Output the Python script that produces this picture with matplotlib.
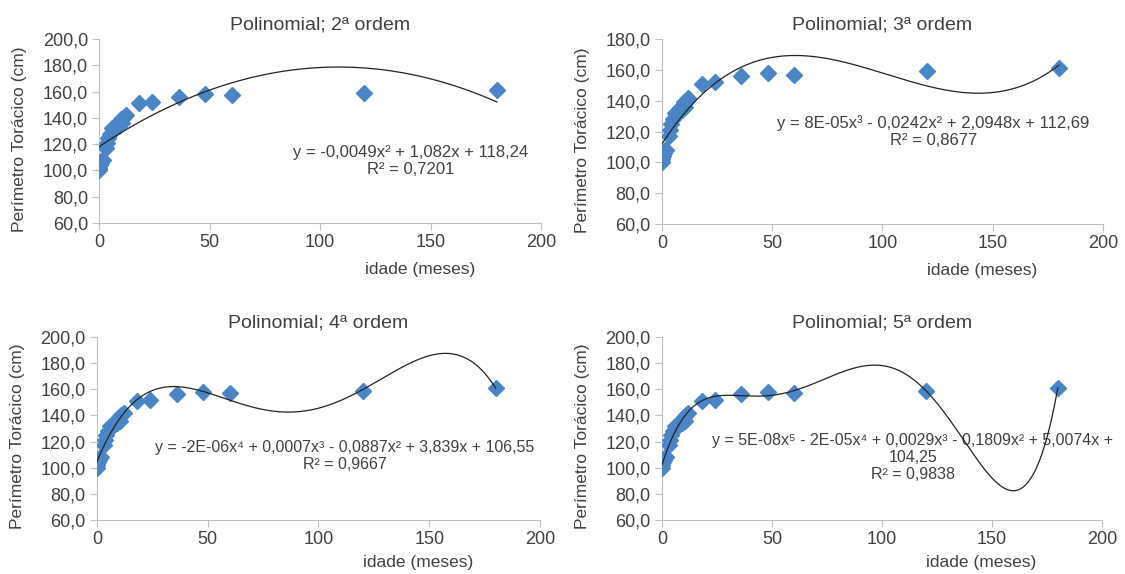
import numpy as np
import matplotlib
matplotlib.use("Agg")
import matplotlib.pyplot as plt

plt.rcParams['font.family'] = ['Liberation Sans', 'DejaVu Sans']

# idade (meses) e perimetro toracico (cm)
idade = [0, 0, 0.5, 1, 1.5, 2, 3, 3.5, 4, 5, 6, 7, 8, 9, 9.5, 10, 10.5, 11, 12,
         18, 24, 36, 48, 60, 120, 180]
perimetro = [100, 102, 104, 106, 108, 108, 117, 121, 125, 128, 132, 133, 135, 134, 137, 139, 136, 140, 142,
             151, 152, 156, 158, 157, 159, 161]

ordens = [2, 3, 4, 5]
titulos = ['Polinomial; 2ª ordem', 'Polinomial; 3ª ordem',
           'Polinomial; 4ª ordem', 'Polinomial; 5ª ordem']
equacoes = ['y = -0,0049x² + 1,082x + 118,24\nR² = 0,7201',
            'y = 8E-05x³ - 0,0242x² + 2,0948x + 112,69\nR² = 0,8677',
            'y = -2E-06x⁴ + 0,0007x³ - 0,0887x² + 3,839x + 106,55\nR² = 0,9667',
            'y = 5E-08x⁵ - 2E-05x⁴ + 0,0029x³ - 0,1809x² + 5,0074x +\n104,25\nR² = 0,9838']
y_limites = [(60, 200), (60, 180), (60, 200), (60, 200)]

posicoes = [[0.088, 0.6115, 0.393, 0.3206],
            [0.5884, 0.6098, 0.392, 0.322],
            [0.0862, 0.094, 0.3938, 0.319],
            [0.5884, 0.094, 0.391, 0.319]]
eq_pos = [(0.705, 0.424), (0.615, 0.59), (0.56, 0.437), (0.57, 0.475)]
eq_tam = [12, 12, 11.5, 11.5]
xlabel_y = [-0.212, -0.212, -0.19, -0.19]

azul = '#4a86c6'
cinza = '#bfbfbf'
texto = '#404040'

fig = plt.figure(figsize=(11.25, 5.74), dpi=100)
x = np.array(idade, dtype=float)
y = np.array(perimetro, dtype=float)
xs = np.linspace(x.min(), x.max(), 400)

for i in range(4):
    ax = fig.add_axes(posicoes[i])
    coef = np.polyfit(x, y, ordens[i])
    ax.plot(x, y, linestyle='none', marker='D', markersize=8, color=azul, zorder=3)
    ax.plot(xs, np.polyval(coef, xs), color='#222222', lw=0.9, zorder=4)

    ax.set_xlim(0, 200)
    ax.set_ylim(*y_limites[i])
    ax.set_xticks([0, 50, 100, 150, 200])
    ax.set_yticks(np.arange(60, y_limites[i][1] + 1, 20))
    ax.yaxis.set_major_formatter(plt.FuncFormatter(lambda v, p: f'{v:.1f}'.replace('.', ',')))
    for s in ['top', 'right']:
        ax.spines[s].set_visible(False)
    for s in ['left', 'bottom']:
        ax.spines[s].set_color(cinza)
    ax.tick_params(direction='out', length=5, color=cinza, labelsize=13, labelcolor=texto, pad=3)
    ax.set_title(titulos[i], fontsize=14, color=texto, pad=7)
    ax.set_ylabel('Perímetro Torácico (cm)', fontsize=12.5, color=texto)
    ax.yaxis.set_label_coords(-0.163, 0.455)
    ax.set_xlabel('idade (meses)', fontsize=12.5, color=texto)
    ax.xaxis.set_label_coords(0.726, xlabel_y[i])
    ax.text(eq_pos[i][0], eq_pos[i][1], equacoes[i], transform=ax.transAxes,
            ha='center', va='top', fontsize=eq_tam[i], color=texto, linespacing=1.15)

fig.savefig('out.png', dpi=100)
